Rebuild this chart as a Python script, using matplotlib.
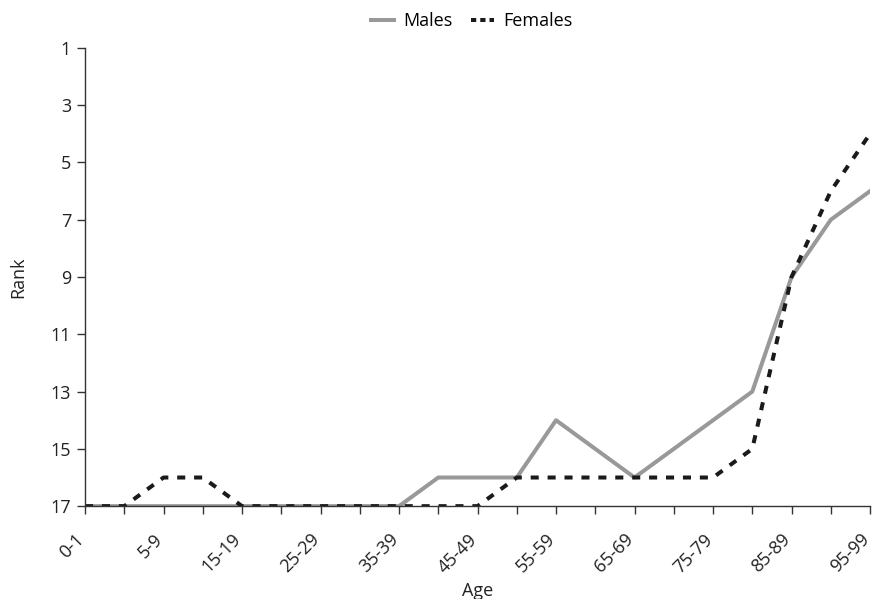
import numpy as np
import matplotlib
matplotlib.use("Agg")
import matplotlib.pyplot as plt
from matplotlib.transforms import ScaledTranslation

plt.rcParams['font.family'] = ['Open Sans', 'DejaVu Sans']

# age groups (only every other one gets a label on the axis)
ages = ['0-1', '1-4', '5-9', '10-14', '15-19', '20-24', '25-29', '30-34',
        '35-39', '40-44', '45-49', '50-54', '55-59', '60-64', '65-69',
        '70-74', '75-79', '80-84', '85-89', '90-94', '95-99']

males = [17, 17, 17, 17, 17, 17, 17, 17, 17, 16, 16, 16, 14, 15, 16,
         15, 14, 13, 9, 7, 6]
females = [17, 17, 16, 16, 17, 17, 17, 17, 17, 17, 17, 16, 16, 16, 16,
           16, 16, 15, 9, 6, 4]

rank_ticks = [1, 3, 5, 7, 9, 11, 13, 15, 17]

fig = plt.figure(figsize=(8.73, 5.99), dpi=100)
ax = fig.add_axes([0.0974, 0.155, 0.8992, 0.765])

x = np.arange(len(ages))
ax.plot(x, males, '-', color='#999999', lw=2.9, label='Males')
ax.plot(x, females, color='#1a1a1a', lw=2.9, linestyle=(0, (2.0, 2.2)),
        dash_capstyle='butt', label='Females')

ax.set_xlim(0, len(ages) - 1)
ax.set_ylim(17, 1)
ax.set_yticks(rank_ticks)
ax.set_xticks(x)
ax.set_xticklabels([a if i % 2 == 0 else '' for i, a in enumerate(ages)],
                   rotation=45, ha='right', va='baseline', rotation_mode='anchor')

# shift rotated labels so the end of the text sits under the tick
shift = ScaledTranslation(-6 / 100, 0, fig.dpi_scale_trans)
for lab in ax.get_xticklabels():
    lab.set_transform(lab.get_transform() + shift)

for s in ['top', 'right']:
    ax.spines[s].set_visible(False)
for s in ['left', 'bottom']:
    ax.spines[s].set_color('#333333')
    ax.spines[s].set_linewidth(1.0)
ax.tick_params(axis='both', length=5.5, width=1.0, color='#333333',
               labelsize=13, labelcolor='#222222')
ax.tick_params(axis='y', pad=4.5)
ax.tick_params(axis='x', pad=19)

ax.set_xlabel('Age', fontsize=13, color='#222222')
ax.set_ylabel('Rank', fontsize=13, color='#222222')
ax.xaxis.set_label_coords(0.5, -0.166)
ax.yaxis.set_label_coords(-0.073, 0.5)

leg = ax.legend(loc='center', bbox_to_anchor=(471.5 / 873, 1 - 21 / 599),
                bbox_transform=fig.transFigure, ncol=2, frameon=False,
                fontsize=13, handlelength=1.3, columnspacing=1.0, handletextpad=0.5)
leg.get_lines()[1].set_linestyle((0, (1.3, 1.0)))

fig.savefig('out.png', dpi=100)
